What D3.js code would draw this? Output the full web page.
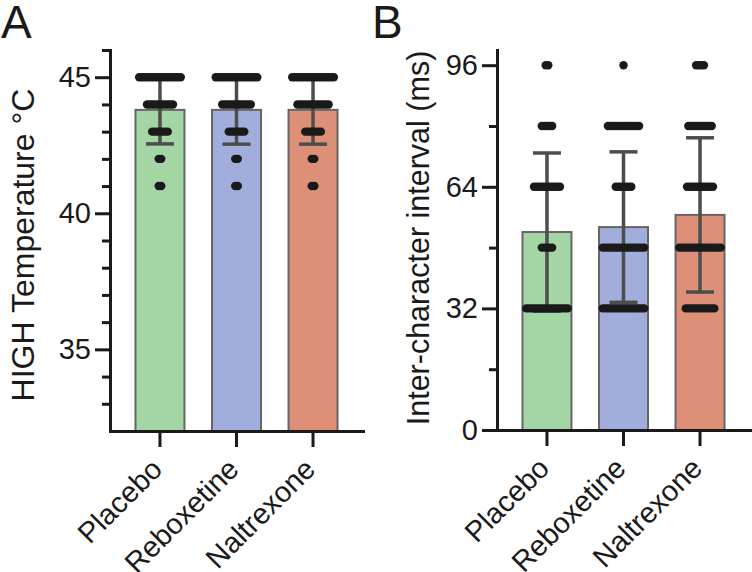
<!DOCTYPE html>
<html>
<head>
<meta charset="utf-8">
<script src="https://cdn.jsdelivr.net/npm/d3@7"></script>
<style>
  body { margin: 0; background: #fff; }
  svg { display: block; font-family: "Liberation Sans", Arial, sans-serif; }
</style>
</head>
<body>
<div id="chart"></div>
<script>
(function(d3) {
  'use strict';

  var groups = ['Placebo', 'Reboxetine', 'Naltrexone'];
  var fills = ['#a3d5a5', '#a1aedb', '#dd8f77'];

  // panel A: HIGH temperature
  var tempMean = [43.8, 43.8, 43.8];
  var tempSD = [1.25, 1.26, 1.26];
  var tempLevels = [45, 44, 43, 42, 41];
  var tempCounts = [[17, 11, 7, 2, 2], [17, 12, 7, 2, 2], [17, 13, 7, 2, 2]];
  var tempMajor = [35, 40, 45];
  var tempMinor = [33, 34, 36, 37, 38, 39, 41, 42, 43, 44, 46];

  // panel B: inter-character interval
  var ikiMean = [52.1, 53.4, 56.6];
  var ikiSD = [20.8, 19.8, 20.3];
  var ikiLevels = [96, 80, 64, 48, 32];
  var ikiCounts = [[2, 5, 11, 5, 17], [1, 13, 7, 17, 17], [4, 10, 11, 17, 12]];
  var ikiMajor = [0, 32, 64, 96];
  var ikiMinor = [16, 48, 80];

  var width = 752, height = 572;
  var ink = '#1a1a1a';

  var svg = d3.select('#chart').append('svg')
    .attr('width', width)
    .attr('height', height);

  function panel(p) {
    var x = d3.scaleBand()
      .domain(groups)
      .range([p.left, p.left + 253])
      .paddingInner(0.36)
      .paddingOuter(0.333);
    var y = d3.scaleLinear()
      .domain(p.domain)
      .range([p.bottom, 50]);

    var g = svg.append('g');

    // bars
    g.selectAll('.bar')
      .data(groups)
      .enter().append('rect')
        .attr('class', 'bar')
        .attr('x', function(d) { return x(d); })
        .attr('y', function(d, i) { return y(p.mean[i]); })
        .attr('width', x.bandwidth())
        .attr('height', function(d, i) { return y(p.domain[0]) - y(p.mean[i]); })
        .attr('fill', function(d, i) { return fills[i]; })
        .attr('stroke', '#666')
        .attr('stroke-width', 2);

    // error bars (mean +/- SD)
    var capHalf = 14;
    groups.forEach(function(d, i) {
      var cx = x(d) + x.bandwidth() / 2;
      var lo = y(p.mean[i] - p.sd[i]), hi = y(p.mean[i] + p.sd[i]);
      var eb = g.append('g')
        .attr('stroke', '#4d4d4d')
        .attr('stroke-width', 3.5);
      eb.append('line').attr('x1', cx).attr('x2', cx).attr('y1', lo).attr('y2', hi);
      eb.append('line').attr('x1', cx - capHalf).attr('x2', cx + capHalf).attr('y1', lo).attr('y2', lo);
      eb.append('line').attr('x1', cx - capHalf).attr('x2', cx + capHalf).attr('y1', hi).attr('y2', hi);
    });

    // individual points, spread sideways at each value
    var spacing = 2.6;
    var points = [];
    groups.forEach(function(d, i) {
      var cx = x(d) + x.bandwidth() / 2;
      p.levels.forEach(function(v, j) {
        var n = p.counts[i][j];
        for (var k = 0; k < n; k++) {
          points.push({ x: cx + (k - (n - 1) / 2) * spacing, v: v });
        }
      });
    });
    g.selectAll('.dot')
      .data(points)
      .enter().append('circle')
        .attr('class', 'dot')
        .attr('cx', function(d) { return d.x; })
        .attr('cy', function(d) { return y(d.v); })
        .attr('r', 4.2)
        .attr('fill', ink);

    // y axis: labelled major ticks, short minor ticks
    g.append('g')
      .attr('transform', 'translate(' + p.left + ',0)')
      .call(d3.axisLeft(y).tickValues(p.major).tickSize(15).tickSizeOuter(0).tickPadding(4));
    g.append('g')
      .attr('transform', 'translate(' + p.left + ',0)')
      .call(d3.axisLeft(y).tickValues(p.minor).tickSize(8).tickFormat(''))
      .select('.domain').remove();

    var xAxis = g.append('g')
      .attr('transform', 'translate(0,' + p.bottom + ')')
      .call(d3.axisBottom(x).tickSize(16).tickSizeOuter(0));
    xAxis.selectAll('text')
      .attr('x', 0).attr('y', 0).attr('dy', 0)
      .attr('transform', 'translate(4,40) rotate(-45)')
      .style('text-anchor', 'end');

    g.selectAll('.domain')
      .attr('stroke', ink)
      .attr('stroke-width', 3)
      .attr('stroke-linecap', 'square');
    g.selectAll('.tick line')
      .attr('stroke', ink)
      .attr('stroke-width', 3);
    g.selectAll('.tick text')
      .attr('fill', ink)
      .style('font-size', '29px')
      .style('font-family', '"Liberation Sans", Arial, sans-serif');

    // axis title
    g.append('text')
      .attr('transform', 'translate(' + p.titleX + ',' + p.titleY + ') rotate(-90)')
      .attr('text-anchor', 'middle')
      .attr('fill', ink)
      .style('font-size', p.titleSize)
      .text(p.title);

    // panel letter
    g.append('text')
      .attr('x', p.letterX)
      .attr('y', 38)
      .attr('fill', ink)
      .style('font-size', '46px')
      .text(p.letter);
  }

  panel({
    left: 110, bottom: 431, domain: [32, 46],
    mean: tempMean, sd: tempSD, levels: tempLevels, counts: tempCounts,
    major: tempMajor, minor: tempMinor,
    title: 'HIGH Temperature \u00b0C', titleX: 34, titleY: 245, titleSize: '32px',
    letter: 'A', letterX: 1
  });

  panel({
    left: 497, bottom: 430, domain: [0, 100],
    mean: ikiMean, sd: ikiSD, levels: ikiLevels, counts: ikiCounts,
    major: ikiMajor, minor: ikiMinor,
    title: 'Inter-character interval (ms)', titleX: 429, titleY: 238, titleSize: '30.5px',
    letter: 'B', letterX: 372
  });
})(window.d3);
</script>
</body>
</html>
